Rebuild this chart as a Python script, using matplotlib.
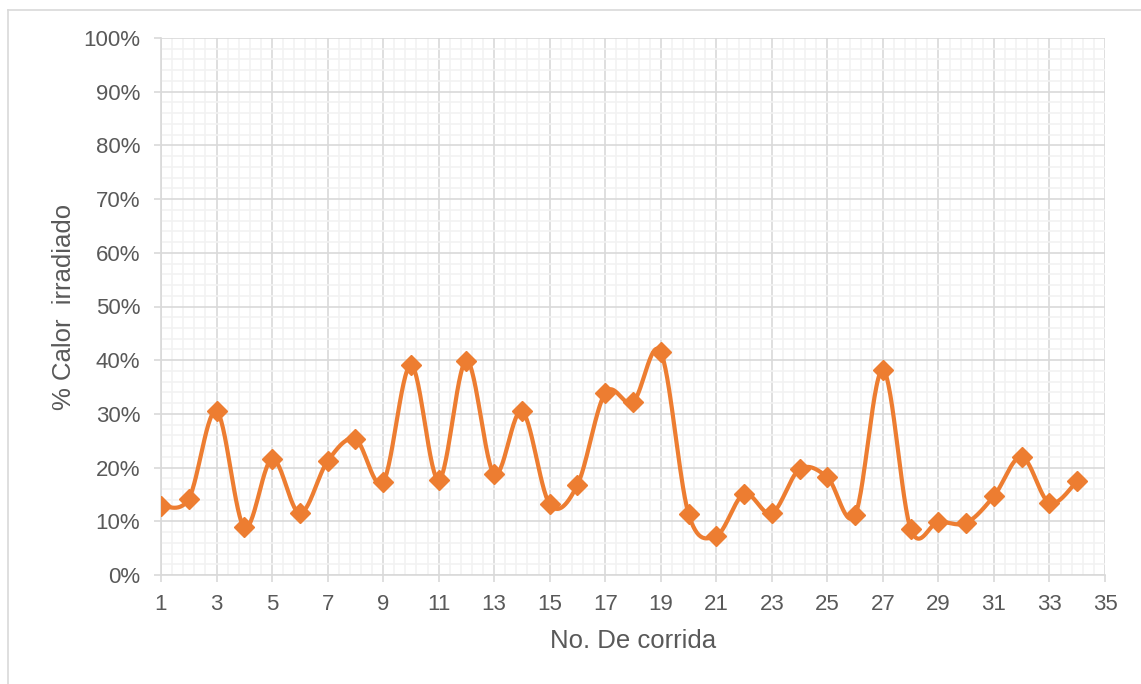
import numpy as np
import matplotlib
matplotlib.use("Agg")
import matplotlib.pyplot as plt
from matplotlib.ticker import MultipleLocator, FuncFormatter
from matplotlib.lines import Line2D

plt.rcParams['font.family'] = ['Liberation Sans', 'DejaVu Sans']

runs = list(range(1, 35))
calor = [12.9, 14.2, 30.5, 8.9, 21.6, 11.5, 21.2, 25.3, 17.3, 39.1,
         17.7, 39.9, 18.8, 30.5, 13.2, 16.8, 33.9, 32.2, 41.5, 11.4,
         7.3, 15.1, 11.5, 19.7, 18.2, 11.2, 38.2, 8.6, 9.9, 9.7,
         14.7, 22.0, 13.4, 17.5]
x_label = "No. De corrida"
y_label = "% Calor  irradiado"

ORANGE = "#ED7D31"
TXT = "#595959"
MAJ = "#D9D9D9"
MIN = "#F2F2F2"


def smooth(xs, ys, n=30):
    xs = np.asarray(xs, float); ys = np.asarray(ys, float)
    px = np.concatenate([[xs[0]], xs, [xs[-1]]])
    py = np.concatenate([[ys[0]], ys, [ys[-1]]])
    ox, oy = [], []
    t = np.linspace(0, 1, n, endpoint=False)
    for i in range(1, len(px) - 2):
        p0 = np.array([px[i], py[i]]); p3 = np.array([px[i + 1], py[i + 1]])
        p1 = p0 + (np.array([px[i + 1], py[i + 1]]) - np.array([px[i - 1], py[i - 1]])) / 6
        p2 = p3 - (np.array([px[i + 2], py[i + 2]]) - np.array([px[i], py[i]])) / 6
        b = ((1 - t) ** 3)[:, None] * p0 + (3 * (1 - t) ** 2 * t)[:, None] * p1 \
            + (3 * (1 - t) * t ** 2)[:, None] * p2 + (t ** 3)[:, None] * p3
        ox.extend(b[:, 0]); oy.extend(b[:, 1])
    ox.append(xs[-1]); oy.append(ys[-1])
    return np.array(ox), np.array(oy)


fig = plt.figure(figsize=(11.41, 6.84), dpi=100)
ax = fig.add_axes([161 / 1141, 1 - 575 / 684, (1105 - 161) / 1141, (575 - 38) / 684])

sx, sy = smooth(runs, calor)
ax.plot(sx, sy, color=ORANGE, lw=3.0, zorder=3, solid_capstyle='round')
ax.plot(runs, calor, linestyle='none', marker='D', markersize=10.5,
        color=ORANGE, zorder=4)

ax.set_xlim(1, 35)
ax.set_ylim(0, 100)
ax.xaxis.set_major_locator(MultipleLocator(2, offset=1))
ax.xaxis.set_minor_locator(MultipleLocator(0.4, offset=0.2))
ax.yaxis.set_major_locator(MultipleLocator(10))
ax.yaxis.set_minor_locator(MultipleLocator(2))
ax.yaxis.set_major_formatter(FuncFormatter(lambda v, p: f"{int(round(v))}%"))

ax.grid(which='minor', color=MIN, lw=1.2, zorder=0)
ax.grid(which='major', color=MAJ, lw=1.2, zorder=1)
ax.set_axisbelow(True)

for s in ['top', 'right']:
    ax.spines[s].set_visible(False)
for s in ['left', 'bottom']:
    ax.spines[s].set_color(MAJ)
    ax.spines[s].set_linewidth(1.2)

ax.tick_params(which='major', length=5, width=1.2, color=MAJ, labelcolor=TXT,
               labelsize=16)
ax.tick_params(axis='x', which='major', pad=9)
ax.tick_params(axis='y', which='major', pad=10)
ax.tick_params(which='minor', length=0)

ax.set_xlabel(x_label, fontsize=18.5, color=TXT, labelpad=10)
ax.set_ylabel(y_label, fontsize=18.5, color=TXT, labelpad=5)

# chart-area border
fig.add_artist(Line2D([8 / 1141, 8 / 1141], [0, 1 - 10 / 684], transform=fig.transFigure,
                      color=MAJ, lw=1.2))
fig.add_artist(Line2D([8 / 1141, 1], [1 - 10 / 684, 1 - 10 / 684], transform=fig.transFigure,
                      color=MAJ, lw=1.2))

fig.savefig("out.png", dpi=100, facecolor='white')
